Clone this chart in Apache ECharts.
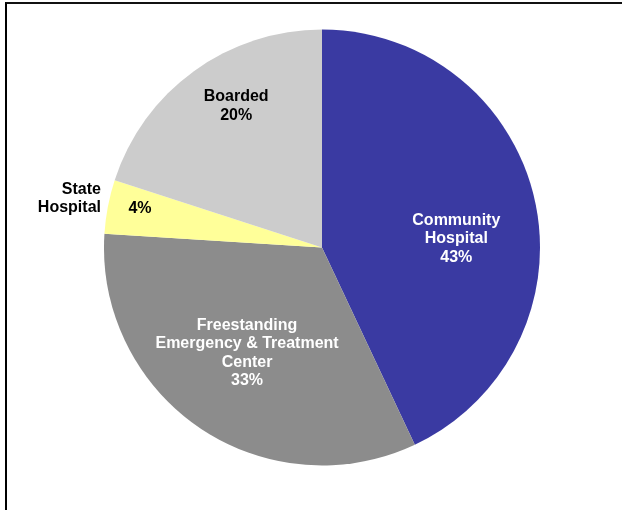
<!DOCTYPE html>
<html>
<head>
<meta charset="utf-8">
<script src="https://cdn.jsdelivr.net/npm/echarts@6/dist/echarts.min.js"></script>
<style>
html,body{margin:0;padding:0;background:#fff;}
#chart{position:absolute;left:0;top:0;width:622px;height:510px;}
#frame{position:absolute;left:5px;top:2px;width:617px;height:508px;border-top:2px solid #111;border-left:2px solid #000;box-sizing:border-box;pointer-events:none;}
</style>
</head>
<body>
<div id="chart"></div>
<div id="frame"></div>
<script>
var categories = ['Community\nHospital', 'Freestanding\nEmergency & Treatment\nCenter', 'State\nHospital', 'Boarded'];
var percentages = [43, 33, 4, 20];

var sliceColors = ['#3A3AA2', '#8C8C8C', '#FFFF99', '#CCCCCC'];
var labelColors = ['#FFFFFF', '#FFFFFF', '#000000', '#000000'];
var labelShift = [[25, 16], [-12, 13], [-72, -18], [-20, -51]];
var nameShift = [-111, -28];

var font = {fontFamily: '"Liberation Sans", Arial, sans-serif', fontWeight: 'bold', fontSize: 16, lineHeight: 18.5};

var data = categories.map(function (c, i) {
  return {
    name: c, value: percentages[i],
    itemStyle: {color: sliceColors[i]},
    label: {color: labelColors[i]}
  };
});

var chart = echarts.init(document.getElementById('chart'));
chart.setOption({
  animation: false,
  series: [{
    type: 'pie',
    center: [322, 247.5],
    radius: [0, 218],
    startAngle: 90,
    clockwise: true,
    avoidLabelOverlap: false,
    silent: true,
    data: data,
    itemStyle: {borderWidth: 0},
    labelLine: {show: false},
    label: Object.assign({
      show: true,
      position: 'inside',
      formatter: function (p) {
        return p.dataIndex === 2 ? p.value + '%' : p.name + '\n' + p.value + '%';
      }
    }, font),
    labelLayout: function (p) {
      var s = labelShift[p.dataIndex];
      return {dx: s[0], dy: s[1]};
    }
  }, {
    type: 'pie',
    center: [322, 247.5],
    radius: [0, 218],
    startAngle: 90,
    clockwise: true,
    avoidLabelOverlap: false,
    silent: true,
    data: data.map(function (d, i) {
      return {name: d.name, value: d.value, itemStyle: {color: 'rgba(0,0,0,0)'}};
    }),
    labelLine: {show: false},
    label: Object.assign({
      show: true,
      position: 'inside',
      color: '#000',
      formatter: function (p) { return p.dataIndex === 2 ? p.name : ''; }
    }, font),
    labelLayout: function (p) {
      return {dx: nameShift[0], dy: nameShift[1], align: 'right'};
    }
  }]
});
</script>
</body>
</html>
